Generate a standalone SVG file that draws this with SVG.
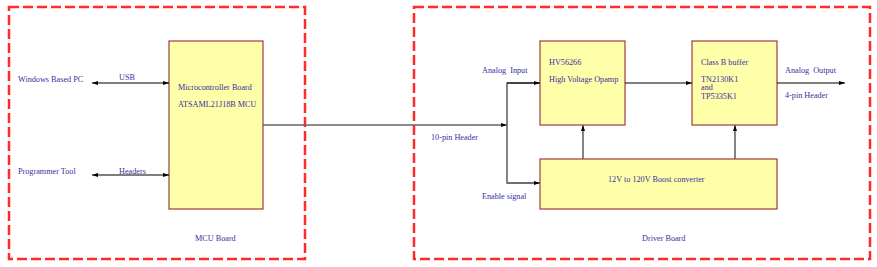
<svg xmlns="http://www.w3.org/2000/svg" width="877" height="267" viewBox="0 0 877 267">
<style>
.frame{fill:none;stroke:#ff2a2a;stroke-width:2.5;stroke-dasharray:10,4}
.blk{fill:#ffffaa;stroke:#a03c3c;stroke-width:1.2}
.t{font-family:"Liberation Serif",serif;font-size:8.2px;fill:#3a2ea0;white-space:pre}
.c{fill:none;stroke:#000;stroke-width:1}
.g{fill:none;stroke:#666;stroke-width:1.6}
</style>
<defs>
<marker id="ah" viewBox="0 0 6 6" refX="6" refY="3" markerWidth="6" markerHeight="6" markerUnits="userSpaceOnUse" orient="auto-start-reverse"><path d="M0,1 L6,3 L0,5 z" fill="#000"/></marker>
</defs>
<rect width="877" height="267" fill="#fff"/>
<g id="mcu-board-frame"><rect class="frame" x="9" y="7" width="296" height="252"/><text class="t" x="195" y="241">MCU Board</text></g>
<g id="driver-board-frame"><rect class="frame" x="414" y="7" width="456" height="252"/><text class="t" x="642" y="241">Driver Board</text></g>
<g id="pc"><text class="t" x="18" y="82">Windows Based PC</text></g>
<g id="programmer"><text class="t" x="18" y="174">Programmer Tool</text></g>
<g id="mcu"><rect class="blk" x="169" y="41" width="94" height="168"/><text class="t" x="178" y="90">Microcontroller Board</text><text class="t" x="178" y="107">ATSAML21J18B MCU</text></g>
<g id="opamp"><rect class="blk" x="540" y="41" width="85" height="84"/><text class="t" x="549" y="65">HV56266</text><text class="t" x="549" y="82">High Voltage Opamp</text></g>
<g id="buffer"><rect class="blk" x="692" y="41" width="85" height="84"/><text class="t" x="701" y="65">Class B buffer</text><text class="t" x="701" y="82">TN2130K1</text><text class="t" x="701" y="90">and</text><text class="t" x="701" y="99">TP5335K1</text></g>
<g id="boost"><rect class="blk" x="540" y="159" width="237" height="50"/><text class="t" x="608" y="182">12V to 120V Boost converter</text></g>
<g id="connectors">
<line class="c" x1="92" y1="83" x2="169" y2="83" marker-start="url(#ah)" marker-end="url(#ah)"/>
<text class="t" x="119" y="80">USB</text>
<line class="c" x1="92" y1="175" x2="169" y2="175" marker-start="url(#ah)" marker-end="url(#ah)"/>
<text class="t" x="119" y="174">Headers</text>
<line class="g" x1="263" y1="125" x2="507" y2="125" marker-end="url(#ah)"/>
<text class="t" x="431" y="140">10-pin Header</text>
<polyline class="g" points="540,83 507,83 507,183 540,183"/>
<line class="c" x1="507" y1="83" x2="540" y2="83" marker-end="url(#ah)"/>
<line class="g" x1="507" y1="183" x2="540" y2="183" marker-end="url(#ah)"/>
<text class="t" x="482" y="73" xml:space="preserve">Analog  Input</text>
<text class="t" x="482" y="199">Enable signal</text>
<line class="c" x1="625" y1="83" x2="692" y2="83" marker-end="url(#ah)"/>
<line class="c" x1="777" y1="83" x2="845" y2="83" marker-end="url(#ah)"/>
<text class="t" x="785" y="73" xml:space="preserve">Analog  Output</text>
<text class="t" x="785" y="98">4-pin Header</text>
<line class="g" x1="583" y1="159" x2="583" y2="125" marker-end="url(#ah)"/>
<line class="g" x1="735" y1="159" x2="735" y2="125" marker-end="url(#ah)"/>
</g>
</svg>
